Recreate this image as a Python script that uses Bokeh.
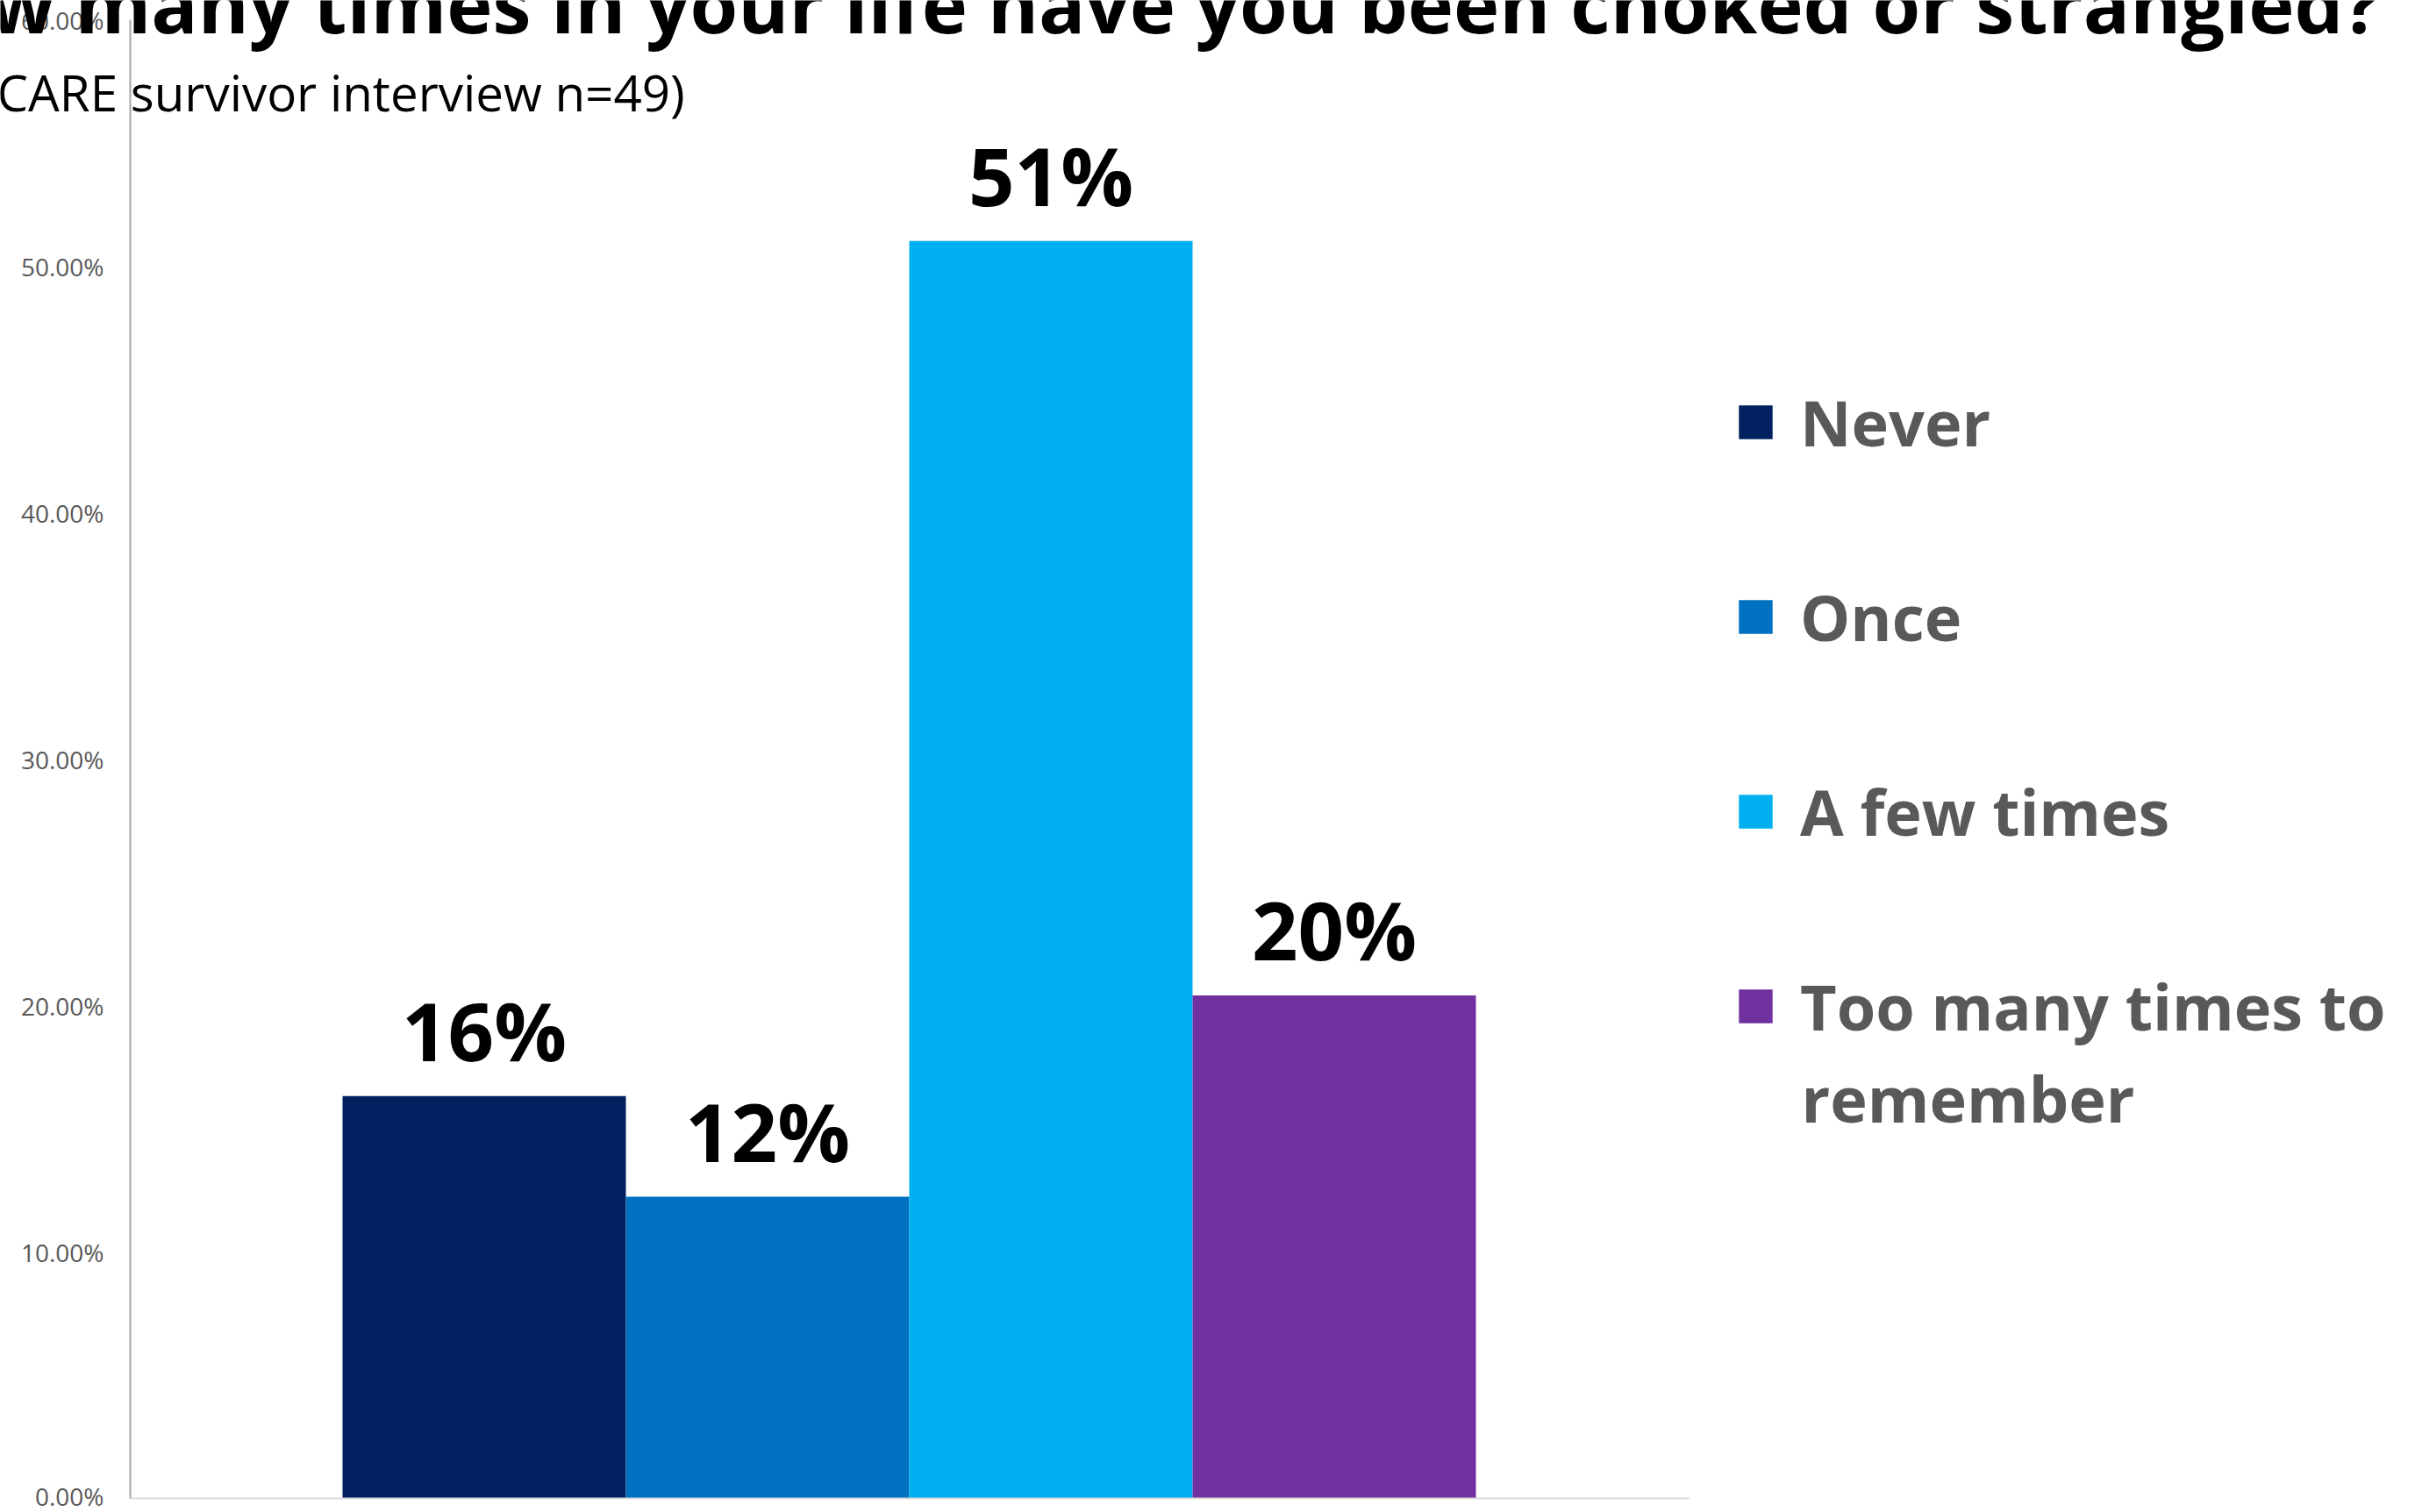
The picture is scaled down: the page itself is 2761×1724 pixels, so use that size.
from bokeh.plotting import figure
from bokeh.models import (ColumnDataSource, Range1d, FixedTicker, NumeralTickFormatter,
                          Label, Legend, LegendItem, LinearAxis)
from bokeh.core.properties import value
from bokeh.embed import file_html
from bokeh.resources import INLINE

# ---- data ----
categories = ["Never", "Once", "A few times", "Too many times to remember"]
legend_line1 = ["Never", "Once", "A few times", "Too many times to"]
legend_line2 = "remember"
shares = [0.1633, 0.1224, 0.5102, 0.2041]
bar_labels = ["16%", "12%", "51%", "20%"]
colors = ["#002060", "#0070C0", "#00B0F0", "#7030A0"]
y_ticks = [0.0, 0.1, 0.2, 0.3, 0.4, 0.5, 0.6]
title_text = "How many times in your life have you been choked or strangled?"
subtitle_text = "CARE survivor interview n=49)"

FONT = "Open Sans"
W, H = 2761, 1724

# ---- layout (pixels) ----
AX_L, AX_R, AX_T, AX_B = 148, 1925, 22, 1708   # plot area edges
BAR0_CENTER, BAR_PX = 551.5, 323.0            # first bar centre, bar width
Y_PX_PER_UNIT = (AX_B - AX_T) / 0.6

def xd(px):  # canvas px -> data x
    return (px - BAR0_CENTER) / BAR_PX

def yd(py):  # canvas px (from top) -> data y
    return (AX_B - py) / Y_PX_PER_UNIT

p = figure(width=W, height=H, output_backend="svg", toolbar_location=None,
           x_range=Range1d(xd(0), xd(W)), y_range=Range1d(yd(H), yd(0)),
           x_axis_location=None, y_axis_location=None,
           min_border=0, min_border_left=0, min_border_right=0,
           min_border_top=0, min_border_bottom=0)
p.outline_line_color = None
p.background_fill_color = "white"
p.border_fill_color = "white"
p.grid.visible = False

idx = list(range(len(categories)))
renderers = []
for i, val, col in zip(idx, shares, colors):
    src = ColumnDataSource(dict(x=[i], val=[val]))
    r = p.vbar(x="x", top="val", bottom=0, width=1.0, source=src,
               fill_color=col, line_color=None)
    renderers.append(r)

lab_src = ColumnDataSource(dict(x=idx, val=shares, lbl=bar_labels))
p.text(x="x", y="val", text="lbl", source=lab_src, y_offset=-75,
       text_align="center", text_baseline="alphabetic",
       text_font=value(FONT), text_font_style="bold", text_font_size="92px",
       text_color="black")

# ---- axes ----
yax = LinearAxis(fixed_location=xd(AX_L), bounds=(0, 0.6),
                 ticker=FixedTicker(ticks=y_ticks),
                 formatter=NumeralTickFormatter(format="0.00%"))
yax.major_tick_line_color = None
yax.minor_tick_line_color = None
yax.major_tick_out = 0
yax.major_tick_in = 0
yax.major_label_standoff = 30
yax.major_label_text_font = FONT
yax.major_label_text_font_size = "28px"
yax.major_label_text_color = "#595959"
yax.axis_line_color = "#a6a6a6"
yax.axis_line_width = 2
p.add_layout(yax, "left")

xax = LinearAxis(fixed_location=0, bounds=(xd(AX_L), xd(AX_R)),
                 ticker=FixedTicker(ticks=[]))
xax.major_tick_line_color = None
xax.minor_tick_line_color = None
xax.major_label_text_color = None
xax.axis_line_color = "#d9d9d9"
xax.axis_line_width = 2
p.add_layout(xax, "below")

# ---- title & subtitle ----
p.add_layout(Label(x=2713, y=H - 3, x_units="screen", y_units="screen",
                   text=title_text, text_align="right", text_baseline="alphabetic",
                   text_font=FONT, text_font_style="bold", text_font_size="88.4px",
                   text_color="black", level="overlay"))
p.add_layout(Label(x=-4, y=H - 105, x_units="screen", y_units="screen",
                   text=subtitle_text, text_align="left", text_baseline="alphabetic",
                   text_font=FONT, text_font_size="56.5px", text_color="black",
                   level="overlay"))

# ---- legend ----
legend = Legend(items=[LegendItem(label=lbl, renderers=[r])
                       for lbl, r in zip(legend_line1, renderers)],
                location=(1977, 528), orientation="vertical",
                padding=0, margin=0, spacing=124,
                glyph_width=48, glyph_height=48, label_standoff=27,
                label_text_font=FONT, label_text_font_style="bold",
                label_text_font_size="72px", label_text_color="#595959",
                border_line_color=None, background_fill_alpha=0)
p.add_layout(legend, "center")
p.add_layout(Label(x=2053, y=H - 1251, x_units="screen", y_units="screen",
                   text=legend_line2, text_align="left", text_baseline="alphabetic",
                   text_font=FONT, text_font_style="bold", text_font_size="72px",
                   text_color="#595959"))

open("out.html", "w").write(file_html(p, INLINE))
